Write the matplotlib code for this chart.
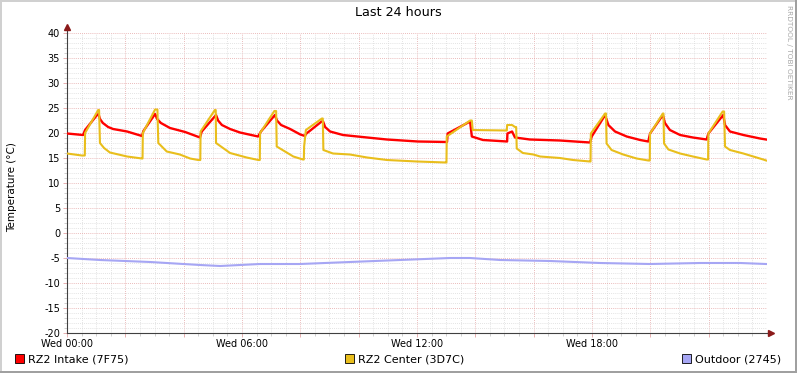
import numpy as np
import matplotlib
matplotlib.use("Agg")
import matplotlib.pyplot as plt
from matplotlib.patches import Rectangle

plt.rcParams["axes.unicode_minus"] = False

W, H = 797, 373

# hours since Wed 00:00, readings in degrees C
intake_t = [0.0, 0.55, 0.62, 1.03, 1.08, 1.13, 1.23, 1.41, 1.58, 2.06, 2.57,
            2.62, 3.02, 3.09, 3.22, 3.53, 4.05, 4.56,
            4.62, 5.11, 5.18, 5.31, 5.59, 5.93, 6.55,
            6.65, 7.13, 7.2, 7.34, 7.65, 8.0, 8.16,
            8.19, 8.73, 8.78, 8.85, 9.02, 9.46, 10.29, 10.97, 12.03, 13.03,
            13.05, 13.82, 13.88, 14.26, 15.09, 15.1, 15.26, 15.36, 15.87, 16.9, 17.93,
            17.99, 18.45, 18.56, 18.79, 19.19, 19.65, 19.93,
            19.99, 20.43, 20.5, 20.67, 21.02, 21.46, 21.93,
            21.99, 22.5, 22.56, 22.73, 23.19, 23.76, 23.97]
intake_v = [19.9, 19.6, 20.6, 23.6, 23.8, 22.8, 22.0, 21.2, 20.8, 20.3, 19.4,
            20.4, 23.8, 22.8, 22.0, 21.0, 20.2, 19.1,
            20.3, 23.6, 22.5, 21.6, 20.8, 20.1, 19.3,
            20.3, 23.6, 22.5, 21.6, 20.8, 19.7, 19.4,
            19.8, 22.3, 22.3, 21.2, 20.3, 19.6, 19.1, 18.7, 18.3, 18.2,
            19.9, 22.3, 19.3, 18.6, 18.3, 19.9, 20.3, 19.1, 18.7, 18.5, 18.1,
            19.3, 23.6, 21.6, 20.3, 19.3, 18.6, 18.3,
            19.9, 23.6, 22.0, 20.6, 19.6, 19.1, 18.7,
            19.9, 23.6, 21.6, 20.3, 19.6, 18.9, 18.7]

center_t = [0.0, 0.51, 0.61, 0.62, 1.07, 1.1, 1.13, 1.27, 1.47, 2.06, 2.57,
            2.59, 2.6, 3.02, 3.1, 3.13, 3.42, 3.87, 4.22, 4.5, 4.57,
            4.58, 5.07, 5.1, 5.11, 5.59, 6.16, 6.56, 6.61,
            6.62, 7.11, 7.17, 7.19, 7.76, 8.09, 8.12,
            8.13, 8.19, 8.74, 8.77, 8.79, 9.12, 9.7, 10.29, 10.97, 12.0, 12.99, 13.01,
            13.02, 13.82, 13.88, 13.91, 15.05, 15.08, 15.09, 15.26, 15.36, 15.4, 15.42,
            15.63, 15.99, 16.22, 16.9, 17.35, 17.93, 17.95,
            17.96, 18.45, 18.48, 18.5, 18.67, 19.07, 19.53, 19.93, 19.98,
            19.99, 20.43, 20.45, 20.47, 20.62, 21.02, 21.46, 21.93, 21.98,
            21.99, 22.48, 22.53, 22.56, 22.73, 23.19, 23.87, 23.97]
center_v = [15.9, 15.5, 15.5, 20.0, 24.6, 24.6, 18.0, 17.0, 16.1, 15.3, 14.9,
            14.9, 20.0, 24.7, 24.7, 18.0, 16.3, 15.7, 14.9, 14.6, 14.6,
            20.3, 24.6, 24.6, 18.0, 16.0, 15.1, 14.6, 14.6,
            20.0, 24.4, 24.4, 17.3, 15.3, 14.7, 14.7,
            17.3, 20.6, 22.9, 22.9, 16.6, 15.9, 15.7, 15.1, 14.6, 14.3, 14.1, 14.1,
            19.3, 22.5, 22.5, 20.6, 20.5, 20.5, 21.6, 21.6, 21.2, 21.2, 16.9,
            16.0, 15.7, 15.3, 15.0, 14.6, 14.3, 14.3,
            19.9, 23.9, 23.9, 17.9, 16.6, 15.7, 14.9, 14.5, 14.5,
            19.9, 23.9, 23.9, 17.9, 16.7, 15.9, 15.3, 14.7, 14.7,
            19.9, 24.3, 24.3, 17.3, 16.6, 15.9, 14.7, 14.5]

outdoor_t = [0.0, 1.13, 2.85, 4.56, 5.25, 6.62, 7.99, 9.7, 11.42, 13.13, 13.82,
             14.85, 16.56, 18.27, 19.99, 21.71, 23.08, 23.97]
outdoor_v = [-5.0, -5.4, -5.8, -6.4, -6.6, -6.2, -6.2, -5.8, -5.4, -5.0, -5.0,
             -5.4, -5.6, -6.0, -6.2, -6.0, -6.0, -6.2]

series_names = ["RZ2 Intake (7F75)", "RZ2 Center (3D7C)", "Outdoor (2745)"]
series_colors = ["#FF0000", "#E9BE1C", "#A6A6F4"]
x_tick_labels = ["Wed 00:00", "Wed 06:00", "Wed 12:00", "Wed 18:00"]


def fpos(x, y):
    # pixel position -> figure fraction
    return x / W, 1 - y / H


fig = plt.figure(figsize=(W / 100, H / 100), dpi=100, facecolor="white")
ax = fig.add_axes([67 / W, 40 / H, 700 / W, 300 / H])

ax.plot(intake_t, intake_v, color=series_colors[0], lw=1.7, zorder=3)
ax.plot(center_t, center_v, color=series_colors[1], lw=1.5, zorder=4)
ax.plot(outdoor_t, outdoor_v, color=series_colors[2], lw=1.5, zorder=3)

ax.set_xlim(0, 24)
ax.set_ylim(-20, 40)

major_x = np.arange(0, 24, 2)
ax.set_xticks(major_x)
ax.set_xticklabels([x_tick_labels[i // 3] if i % 3 == 0 else "" for i in range(len(major_x))])
ax.set_xticks(np.arange(0, 24, 0.5), minor=True)
ax.set_yticks(np.arange(-20, 41, 5))
ax.set_yticks(np.arange(-20, 41, 1), minor=True)

ax.grid(which="minor", color="#DADADA", lw=0.6, linestyle=(0, (1, 1.5)), zorder=1)
ax.grid(which="major", color="#E4A4A4", lw=0.6, linestyle=(0, (1, 1.5)), zorder=2)

ax.tick_params(axis="both", which="major", labelsize=7, length=3, width=0.6,
               color="#E4A4A4", pad=2)
ax.tick_params(axis="both", which="minor", length=2, width=0.6, color="#C8C8C8")
ax.tick_params(axis="x", which="major", pad=1.5)

for side in ["top", "right"]:
    ax.spines[side].set_visible(False)
for side in ["left", "bottom"]:
    ax.spines[side].set_color("#404040")
    ax.spines[side].set_linewidth(0.8)

# axis arrows like rrdtool
ax.plot([0, 0], [1.0, 1.02], transform=ax.transAxes, color="#404040", lw=0.8, clip_on=False)
ax.plot([1.0, 1.006], [0, 0], transform=ax.transAxes, color="#404040", lw=0.8, clip_on=False)
ax.plot([0], [1.02], transform=ax.transAxes, marker="^", ms=4, color="#8B1A1A", clip_on=False)
ax.plot([1.006], [0], transform=ax.transAxes, marker=">", ms=4, color="#8B1A1A", clip_on=False)

fig.text(*fpos(398, 13), "Last 24 hours", ha="center", va="center", fontsize=9.2)
fig.text(*fpos(12, 187), "Temperature (°C)", rotation=90, ha="center", va="center", fontsize=7.5)
fig.text(*fpos(789, 5), "RRDTOOL / TOBI OETIKER", rotation=270, ha="center", va="top",
         fontsize=5.3, color="#A8A8A8")

# legend row
legend_x = [15, 345, 682]
for lx, name, col in zip(legend_x, series_names, series_colors):
    fig.add_artist(Rectangle(fpos(lx, 363), 9 / W, 9 / H, transform=fig.transFigure,
                             facecolor=col, edgecolor="black", lw=0.6))
    fig.text(*fpos(lx + 13, 359), name, ha="left", va="center", fontsize=8)

# 3d-ish frame
fig.add_artist(Rectangle((0, 1 - 2 / H), 1, 2 / H, transform=fig.transFigure, color="#D0D0D0", lw=0))
fig.add_artist(Rectangle((0, 0), 2 / W, 1, transform=fig.transFigure, color="#D0D0D0", lw=0))
fig.add_artist(Rectangle((0, 0), 1, 2 / H, transform=fig.transFigure, color="#A0A0A0", lw=0))
fig.add_artist(Rectangle((1 - 2 / W, 0), 2 / W, 1, transform=fig.transFigure, color="#A0A0A0", lw=0))

fig.savefig("out.png", dpi=100, facecolor="white")
